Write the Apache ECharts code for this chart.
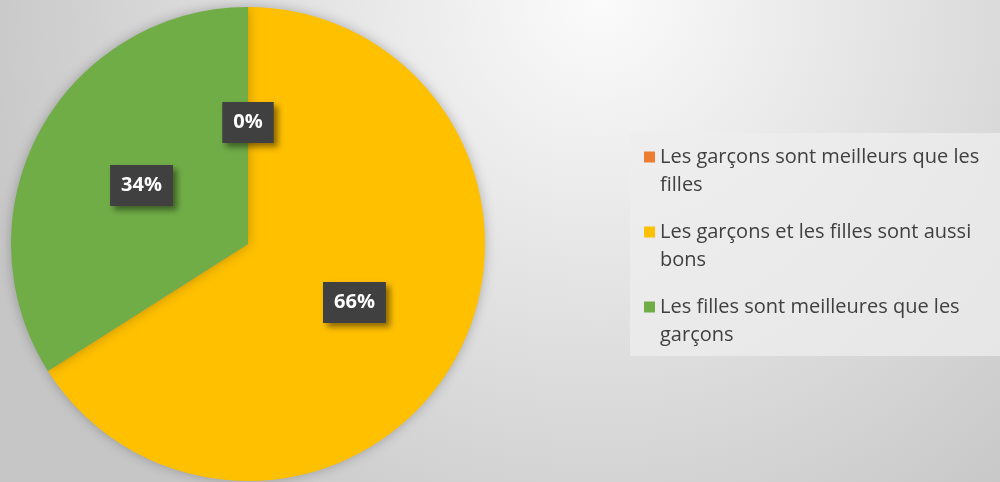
<!DOCTYPE html>
<html>
<head>
<meta charset="utf-8">
<script src="https://cdn.jsdelivr.net/npm/echarts@6/dist/echarts.min.js"></script>
<style>
html,body{margin:0;padding:0;}
#chart{width:1000px;height:482px;}
</style>
</head>
<body>
<div id="chart"></div>
<script>
var categories = [
  "Les garçons sont meilleurs que les filles",
  "Les garçons et les filles sont aussi bons",
  "Les filles sont meilleures que les garçons"
];
var values = [0, 66, 34];
var colors = ["#ED7D31", "#FFC000", "#70AD47"];

var chart = echarts.init(document.getElementById('chart'));
var data = categories.map(function (c, i) {
  return { name: c, value: values[i], itemStyle: { color: colors[i] } };
});

chart.setOption({
  backgroundColor: {
    type: 'radial', x: 0.6, y: 0.0, r: 1.35,
    colorStops: [
      { offset: 0, color: '#fbfbfb' },
      { offset: 1, color: '#c6c6c6' }
    ]
  },
  graphic: [{
    type: 'rect',
    shape: { x: 630, y: 133, width: 370, height: 223 },
    style: { fill: 'rgba(238,238,238,0.75)' },
    z: 0
  }],
  legend: {
    orient: 'vertical',
    left: 644,
    top: 115,
    padding: 0,
    itemWidth: 11,
    itemHeight: 11,
    itemGap: -9,
    icon: 'rect',
    selectedMode: false,
    formatter: function (name) { return '\n' + name; },
    textStyle: {
      fontFamily: 'Open Sans',
      fontSize: 20,
      color: '#404040',
      lineHeight: 28,
      width: 340,
      overflow: 'break'
    }
  },
  series: [{
    type: 'pie',
    center: [248, 244],
    radius: [0, 237],
    startAngle: 90,
    clockwise: true,
    data: data,
    itemStyle: { shadowBlur: 12, shadowColor: 'rgba(0,0,0,0.25)' },
    label: {
      show: true,
      position: 'inside',
      formatter: '{d}%',
      fontFamily: 'Open Sans',
      fontWeight: 'bold',
      fontSize: 20,
      color: '#ffffff',
      backgroundColor: '#404040',
      padding: [11, 11, 10, 11],
      shadowColor: 'rgba(0,0,0,0.45)',
      shadowBlur: 6,
      shadowOffsetX: 4,
      shadowOffsetY: 4
    },
    labelLine: { show: false },
    emphasis: { disabled: true },
    animation: false
  }],
  animation: false
});
</script>
</body>
</html>
